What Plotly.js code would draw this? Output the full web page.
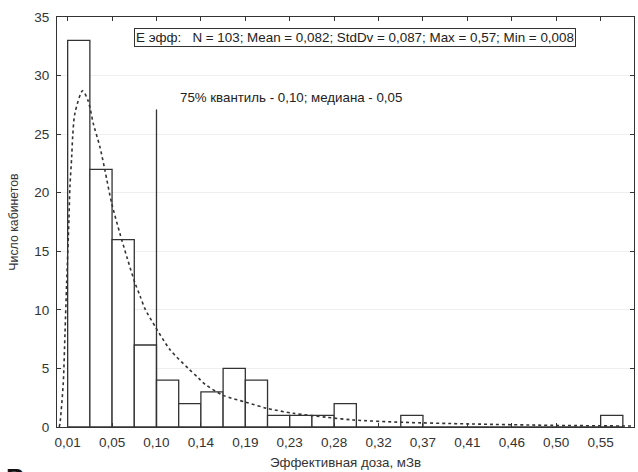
<!DOCTYPE html>
<html>
<head>
<meta charset="utf-8">
<script src="https://cdn.plot.ly/plotly-3.0.1.min.js"></script>
<style>html,body{margin:0;padding:0;background:#fff;}#chart{width:638px;height:472px;}</style>
</head>
<body>
<div id="chart"></div>
<script>
// Histogram bin edges (mSv) and counts
const binEdges = [0.008, 0.0305, 0.053, 0.0755, 0.098, 0.1205, 0.143, 0.1655, 0.188, 0.2105,
  0.233, 0.2555, 0.278, 0.3005, 0.323, 0.3455, 0.368, 0.3905, 0.413, 0.4355,
  0.458, 0.4805, 0.503, 0.5255, 0.548, 0.5705];
const counts = [33, 22, 16, 7, 4, 2, 3, 5, 4, 1, 1, 1, 2, 0, 0, 1, 0, 0, 0, 0, 0, 0, 0, 0, 1];
const tickLabels = ['0,01','0,05','0,10','0,14','0,19','0,23','0,28','0,32','0,37','0,41','0,46','0,50','0,55'];

// Fitted curve
const fitX = [-0.0005, 0.0002, 0.0035, 0.0053, 0.007, 0.0093, 0.0103, 0.0121, 0.0131, 0.0154, 0.0232,
  0.0289, 0.034, 0.0407, 0.0458, 0.0526, 0.061, 0.0684, 0.0762, 0.0813, 0.0863, 0.0965, 0.1117,
  0.1302, 0.1403, 0.1471, 0.1657, 0.1894, 0.2096, 0.2366, 0.2704, 0.2974, 0.348, 0.4156, 0.5, 0.581];
const fitY = [0, 0.3, 3.7, 8.0, 12.3, 17.7, 20.5, 23.1, 24.8, 26.8, 28.7,
  27.8, 25.9, 23.9, 21.9, 19.1, 16.5, 14.4, 12.3, 11.2, 10.1, 8.6, 6.6,
  5.0, 4.2, 3.65, 2.7, 2.1, 1.6, 1.17, 0.83, 0.6, 0.4, 0.26, 0.14, 0.08];

// 75% quantile marker line
const quantileX = [0.098, 0.098];
const quantileY = [0, 27.1];

const statsText = 'E эфф:\u00A0\u00A0\u00A0N = 103; Mean = 0,082; StdDv = 0,087; Max = 0,57; Min = 0,008';
const quantileText = '75% квантиль - 0,10; медиана - 0,05';

const centers = counts.map((c, i) => (binEdges[i] + binEdges[i + 1]) / 2);
const widths = counts.map((c, i) => binEdges[i + 1] - binEdges[i]);
const tickVals = tickLabels.map((t, i) => binEdges[i * 2]);

const ink = '#333333';
const fam = 'Liberation Sans, Arial, sans-serif';
const tickFont = {family: fam, size: 13.5, color: ink};

const traces = [
  {type: 'bar', x: centers, y: counts, width: widths,
   marker: {color: '#ffffff', line: {color: ink, width: 1.3}}, hoverinfo: 'x+y'},
  {type: 'scatter', mode: 'lines', x: fitX, y: fitY, line: {color: ink, width: 1.6, dash: 'dot', shape: 'spline', smoothing: 0.8}},
  {type: 'scatter', mode: 'lines', x: quantileX, y: quantileY, line: {color: ink, width: 1.3}}
];

const layout = {
  width: 638, height: 472,
  margin: {l: 57, r: 4, t: 17, b: 45},
  paper_bgcolor: '#ffffff', plot_bgcolor: '#ffffff',
  showlegend: false, bargap: 0,
  font: tickFont,
  xaxis: {range: [-0.0028, 0.5818], tickvals: tickVals, ticktext: tickLabels,
    ticks: 'inside', ticklen: 4, tickcolor: ink, mirror: 'ticks', showline: true, linecolor: ink, linewidth: 1,
    showgrid: false, zeroline: false, tickfont: tickFont, ticklabelstandoff: 3,
    title: {text: 'Эффективная доза, мЗв', font: {family: fam, size: 13.3, color: ink}, standoff: 8}},
  yaxis: {range: [0, 35], dtick: 5, ticks: 'inside', ticklen: 4, tickcolor: ink, mirror: 'ticks',
    showline: true, linecolor: ink, linewidth: 1, showgrid: true, gridcolor: '#efefef', zeroline: false,
    tickfont: tickFont, ticklabelstandoff: 4,
    title: {text: 'Число кабинетов', font: {family: fam, size: 12.3, color: ink}, standoff: 12}},
  annotations: [
    {xref: 'paper', yref: 'paper', x: (354.5 - 57) / 577, y: (427 - 37) / 410, xanchor: 'center', yanchor: 'middle',
     text: statsText, showarrow: false, bordercolor: ink, borderwidth: 1, borderpad: 1, bgcolor: '#ffffff',
     font: {family: fam, size: 13.4, color: '#222'}},
    {xref: 'paper', yref: 'paper', x: (291 - 57) / 577, y: (427 - 98) / 410, xanchor: 'center', yanchor: 'middle',
     text: quantileText, showarrow: false, font: {family: fam, size: 13.3, color: '#222'}},
    {xref: 'paper', yref: 'paper', x: (15 - 57) / 577, y: -0.083, xanchor: 'center', yanchor: 'top',
     text: '<b>В</b>', showarrow: false, font: {family: fam, size: 26, color: '#111'}}
  ]
};

Plotly.newPlot('chart', traces, layout, {displayModeBar: false, staticPlot: true});
</script>
</body>
</html>
